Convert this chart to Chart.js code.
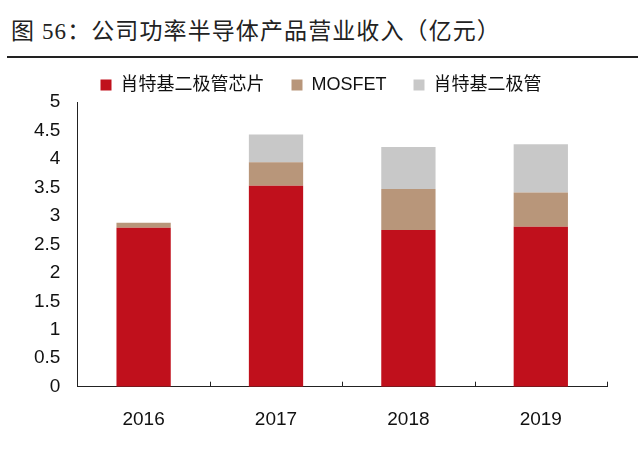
<!DOCTYPE html>
<html>
<head>
<meta charset="utf-8">
<script src="https://cdn.jsdelivr.net/npm/chart.js@4/dist/chart.umd.min.js"></script>
<style>
  body { margin: 0; background: #fff; width: 640px; height: 450px; position: relative; overflow: hidden; }
  #title { position: absolute; left: 11px; top: 12px; font: 23px "Liberation Serif", "Noto Sans CJK SC", serif; color: #222; letter-spacing: 1.1px; white-space: nowrap; }
  #rule { position: absolute; left: 7px; top: 56px; width: 631px; height: 2px; background: #222; }
  #wrap { position: absolute; left: 0; top: 47px; width: 640px; height: 410px; }
</style>
</head>
<body>
<div id="title">图 56：公司功率半导体产品营业收入（亿元）</div>
<div id="rule"></div>
<div id="wrap"><canvas id="myChart"></canvas></div>
<script>
var years = ['2016', '2017', '2018', '2019'];
var seriesNames = ['肖特基二极管芯片', 'MOSFET', '肖特基二极管'];
var chipValues = [2.79, 3.53, 2.75, 2.81];
var mosfetValues = [0.09, 0.41, 0.72, 0.60];
var diodeValues = [0, 0.49, 0.74, 0.85];
var yTicks = [0, 0.5, 1, 1.5, 2, 2.5, 3, 3.5, 4, 4.5, 5];

// small upward tick marks between the categories on the x axis
var categoryTicks = {
    id: 'categoryTicks',
    afterLayout: (chart) => {
        // the legend in the original sits a bit right of the plot centre
        chart.legend.left += 9;
        chart.legend.right += 9;
        chart.legend.top += 2;
        chart.legend.bottom += 2;
    },
    afterDraw: (chart) => {
        var xs = chart.scales.x;
        var c = chart.ctx;
        var step = xs.getPixelForValue(1) - xs.getPixelForValue(0);
        c.save();
        c.strokeStyle = '#222';
        c.lineWidth = 1;
        c.beginPath();
        for (var i = 0; i <= years.length; i++) {
            var x = Math.round(xs.getPixelForValue(i) - step / 2) + 0.5;
            c.moveTo(x, xs.top);
            c.lineTo(x, xs.top - 5);
        }
        c.stroke();
        c.restore();
    }
};

document.addEventListener('DOMContentLoaded', (event) => {
    var ctx = document.getElementById('myChart').getContext('2d');

    var myChart = new Chart(ctx, {
        type: 'bar',
        data: {
            labels: years,
            datasets: [
                { label: seriesNames[0], data: chipValues, backgroundColor: '#C0101C' },
                { label: seriesNames[1], data: mosfetValues, backgroundColor: '#B8967A' },
                { label: seriesNames[2], data: diodeValues, backgroundColor: '#C8C8C8' }
            ]
        },
        options: {
            responsive: true,
            maintainAspectRatio: false,
            animation: false,
            layout: {
                padding: { left: 17, right: 33, top: 0, bottom: 3.5 }
            },
            datasets: {
                bar: { barPercentage: 0.41, categoryPercentage: 1 }
            },
            plugins: {
                legend: {
                    display: true,
                    labels: {
                        font: { size: 18, family: '"Liberation Sans", "Noto Sans CJK SC", sans-serif' },
                        color: '#111',
                        boxWidth: 11,
                        boxHeight: 11,
                        padding: 27
                    }
                },
                tooltip: { enabled: false }
            },
            scales: {
                x: {
                    stacked: true,
                    grid: { display: false, drawTicks: false },
                    border: { display: true, color: '#222', width: 1 },
                    ticks: {
                        color: '#111',
                        padding: 22,
                        font: { size: 19, family: '"Liberation Sans", Arial, sans-serif' }
                    }
                },
                y: {
                    stacked: true,
                    min: 0,
                    max: 5,
                    afterBuildTicks: (scale) => {
                        scale.ticks = yTicks.map((v) => ({ value: v }));
                    },
                    grid: { display: false, drawTicks: false },
                    border: { display: true, color: '#222', width: 1 },
                    ticks: {
                        color: '#111',
                        padding: 17,
                        font: { size: 19, family: '"Liberation Sans", Arial, sans-serif' },
                        callback: (v) => String(v)
                    }
                }
            }
        },
        plugins: [categoryTicks]
    });
});
</script>
</body>
</html>
